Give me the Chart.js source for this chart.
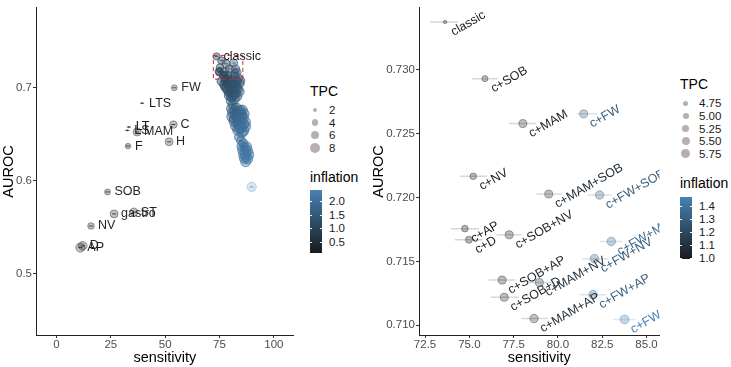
<!DOCTYPE html>
<html lang="en">
<head>
<meta charset="UTF-8">
<title>AUROC vs sensitivity</title>
<script src="https://cdn.jsdelivr.net/npm/chart.js"></script>
<style>
    body { margin: 0; background: #fff; font-family: "Liberation Sans", Arial, sans-serif; }
    #wrap { position: relative; width: 731px; height: 367px; overflow: hidden; }
    canvas { position: absolute; top: 0; }
    #leftChart { left: 0; }
    #rightChart { left: 370px; }
    .lg-title { position: absolute; font-size: 14px; line-height: 16px; color: #000; }
    .lg-label { position: absolute; font-size: 11.5px; line-height: 12px; color: #1a1a1a; }
    .dot { position: absolute; border-radius: 50%; background: #b8b0b0; }
    .bar { position: absolute; width: 12px; }
    .bar-tick { position: absolute; height: 1px; width: 2px; background: #fff; }
</style>
</head>
<body>
<div id="wrap">
    <canvas id="leftChart" width="300" height="367"></canvas>
    <canvas id="rightChart" width="295" height="367"></canvas>
</div>

<script>
// ---- right panel: classic + combinations ----
const comboNames = ['classic', 'c+SOB', 'c+MAM', 'c+FW', 'c+NV', 'c+MAM+SOB', 'c+FW+SOB', 'c+AP', 'c+D',
    'c+SOB+NV', 'c+FW+MAM', 'c+FW+NV', 'c+SOB+AP', 'c+MAM+NV', 'c+SOB+D', 'c+FW+AP', 'c+MAM+AP', 'c+FW+MAM+SOB'];
const comboSens = [73.63, 75.88, 78.02, 81.45, 75.22, 79.48, 82.35, 74.75, 74.98,
    77.25, 83.01, 82.06, 76.85, 78.95, 76.97, 81.98, 78.65, 83.76];
const comboAuroc = [0.73375, 0.72931, 0.72579, 0.72655, 0.72166, 0.72027, 0.72020, 0.71756, 0.71669,
    0.71708, 0.71656, 0.71521, 0.71353, 0.71334, 0.71218, 0.71239, 0.71052, 0.71045];
const comboSensLo = [72.78, 75.15, 77.23, 81.06, 74.47, 78.79, 81.68, 73.96, 74.19,
    76.54, 82.35, 81.38, 76.10, 78.25, 76.20, 81.23, 77.94, 83.10];
const comboSensHi = [74.36, 76.61, 78.75, 82.20, 75.99, 80.20, 83.03, 75.56, 75.75,
    77.94, 83.65, 82.82, 77.60, 79.65, 77.80, 82.73, 79.44, 84.40];
const comboTpc = [4.5, 4.95, 5.45, 5.45, 5.07, 5.45, 5.6, 5.07, 5.17,
    5.45, 5.6, 5.6, 5.45, 5.45, 5.45, 5.6, 5.6, 5.75];
const comboInfl = [1.0, 1.02, 1.05, 1.3, 1.0, 1.08, 1.3, 1.0, 1.0,
    1.02, 1.36, 1.3, 1.03, 1.12, 1.03, 1.32, 1.1, 1.46];

// ---- left panel: single features ----
const singleNames = ['FW', 'LTS', 'LT', 'LS', 'MAM', 'C', 'H', 'F', 'SOB', 'gastro', 'ST', 'NV', 'D', 'AP'];
const singleSens = [54.2, 39.4, 33.3, 32.6, 37.1, 53.8, 51.8, 32.9, 23.5, 26.5, 35.6, 15.9, 12.1, 11.0];
const singleAuroc = [0.700, 0.6834, 0.6578, 0.6542, 0.6525, 0.6605, 0.6419, 0.6373, 0.588, 0.5644, 0.5662, 0.5514, 0.5301, 0.5282];
const singleSensLo = [53.3, 38.5, 32.4, 31.7, 36.2, 52.9, 50.9, 32.0, 22.6, 25.6, 34.7, 15.0, 11.2, 10.1];
const singleSensHi = [55.1, 40.3, 34.2, 33.5, 38.0, 54.7, 52.7, 33.8, 24.4, 27.4, 36.5, 16.8, 13.0, 11.9];
const singleTpc = [3.4, 1, 1, 1, 5.4, 4.8, 5.4, 3, 3.4, 5.4, 5.9, 4, 6.1, 6.9];
const singleInfl = [0.5, 0.2, 0.15, 0.15, 0.3, 0.4, 0.4, 0.2, 0.3, 0.3, 0.3, 0.3, 0.2, 0.2];

// ---- left panel: remaining combinations (outside the zoom box) ----
const extraSens = [78.0, 80.5, 82.8, 77.2, 79.6, 82.0, 84.0, 78.5, 81.0, 83.2, 79.8, 82.3, 80.6, 83.0, 80.2,
    81.0, 80.5, 83.0, 85.5, 81.2, 83.8, 86.3, 80.8, 83.2, 85.8, 81.8, 84.3, 86.8, 82.5, 85.0,
    87.0, 83.5, 86.0, 84.0, 85.0, 85.3, 87.5, 85.8, 88.0, 86.2, 88.3, 86.5, 88.0, 87.0,
    76.0, 79.2, 81.5, 84.5, 77.8, 80.2, 82.6, 79.0, 81.6, 84.0, 81.5, 79.5, 81.8,
    82.0, 84.5, 82.5, 85.0, 82.0, 84.8, 83.5, 86.0, 84.2, 85.5,
    86.8, 87.0, 87.2, 86.0];
const extraAuroc = [0.7075, 0.7080, 0.7070, 0.7035, 0.7040, 0.7030, 0.7045, 0.6995, 0.6990, 0.6985, 0.6950, 0.6945, 0.6905, 0.6910, 0.6860,
    0.6820, 0.6775, 0.6780, 0.6760, 0.6735, 0.6730, 0.6720, 0.6690, 0.6685, 0.6680, 0.6640, 0.6635, 0.6630, 0.6590, 0.6585,
    0.6580, 0.6545, 0.6540, 0.6470, 0.6430, 0.6370, 0.6365, 0.6330, 0.6320, 0.6285, 0.6280, 0.6245, 0.6235, 0.6205,
    0.7070, 0.7060, 0.7055, 0.7075, 0.7010, 0.7015, 0.7005, 0.6970, 0.6965, 0.6960, 0.6925, 0.6920, 0.6880,
    0.6760, 0.6755, 0.6710, 0.6705, 0.6665, 0.6660, 0.6615, 0.6610, 0.6565, 0.6520,
    0.6350, 0.6300, 0.6260, 0.6400];
const extraTpc = [7, 7, 8, 7, 8, 8, 8, 8, 8, 8, 8, 8, 8, 8, 7,
    7, 8, 8, 8, 9, 9, 8, 9, 9, 9, 9, 9, 9, 9, 9,
    8, 9, 9, 7, 7, 8, 8, 9, 8, 9, 9, 9, 8, 8,
    7, 8, 8, 7, 8, 8, 8, 8, 8, 8, 8, 8, 8,
    8, 8, 9, 9, 9, 9, 9, 9, 9, 8,
    8, 9, 9, 7];
const extraInfl = [1.2, 1.3, 1.4, 1.1, 1.3, 1.4, 1.5, 1.2, 1.4, 1.5, 1.3, 1.5, 1.4, 1.6, 1.5,
    1.6, 1.6, 1.7, 1.8, 1.6, 1.8, 1.9, 1.7, 1.8, 1.9, 1.7, 1.9, 2.0, 1.8, 2.0,
    2.0, 1.9, 2.0, 1.9, 2.0, 2.0, 2.1, 2.1, 2.2, 2.1, 2.2, 2.2, 2.3, 2.2,
    1.1, 1.2, 1.3, 1.4, 1.2, 1.3, 1.4, 1.3, 1.4, 1.5, 1.4, 1.3, 1.5,
    1.7, 1.8, 1.7, 1.9, 1.8, 1.9, 1.9, 2.0, 2.0, 2.0,
    2.1, 2.2, 2.2, 2.0];
const EXTRA_ERR = 0.8;

// isolated combination far right
const loneSens = [89.8];
const loneAuroc = [0.5934];
const loneTpc = [7];
const loneInfl = [2.4];

// axes
const leftXTicks = [0, 25, 50, 75, 100];
const leftXLabels = ['0', '25', '50', '75', '100'];
const leftYTicks = [0.5, 0.6, 0.7];
const leftYLabels = ['0.5', '0.6', '0.7'];
const rightXTicks = [72.5, 75, 77.5, 80, 82.5, 85];
const rightXLabels = ['72.5', '75.0', '77.5', '80.0', '82.5', '85.0'];
const rightYTicks = [0.710, 0.715, 0.720, 0.725, 0.730];
const rightYLabels = ['0.710', '0.715', '0.720', '0.725', '0.730'];
const leftRange = { xMin: -9.4, xMax: 109.1, yMin: 0.4342, yMax: 0.7859 };
const rightRange = { xMin: 72.16, xMax: 85.73, yMin: 0.70923, yMax: 0.73485 };

// legends
const leftTpcLegend = [2, 4, 6, 8];
const leftInflLegend = [2.0, 1.5, 1.0, 0.5];
const rightTpcLegend = [4.75, 5.00, 5.25, 5.50, 5.75];
const rightInflLegend = [1.4, 1.3, 1.2, 1.1, 1.0];
const LEFT_INFL = [0.1, 2.4];
const RIGHT_INFL = [0.99, 1.47];

const LOW = [26, 26, 26];
const HIGH = [70, 130, 180];
const FONT = '"Liberation Sans", Arial, sans-serif';

function shade(v, range, a) {
    let t = (v - range[0]) / (range[1] - range[0]);
    t = Math.max(0, Math.min(1, t));
    const c = LOW.map((l, i) => Math.round(l + (HIGH[i] - l) * t));
    return `rgba(${c[0]},${c[1]},${c[2]},${a})`;
}

// point radius from TPC (area ~ linear)
const leftRadius = tpc => Math.sqrt(Math.max(0.3, 4 + 3.5 * (tpc - 2)));
const rightRadius = tpc => Math.sqrt(Math.max(1, 6.25 + 14 * (tpc - 4.75)));

function axis(range, ticks, labels, title, isY, size, pad) {
    return {
        type: 'linear',
        min: isY ? range.yMin : range.xMin,
        max: isY ? range.yMax : range.xMax,
        afterBuildTicks: a => { a.ticks = ticks.map(v => ({ value: v })); },
        afterFit: a => { if (isY) a.width = size; else a.height = size; },
        ticks: {
            callback: (v, i) => labels[i],
            color: '#4d4d4d',
            font: { family: FONT, size: 11.5 },
            padding: pad,
            maxRotation: 0,
            autoSkip: false
        },
        grid: { drawOnChartArea: false, drawTicks: true, tickLength: 3, color: '#333' },
        border: { display: true, color: '#222', width: 1 },
        title: { display: true, text: title, color: '#000', font: { family: FONT, size: 14.5 }, padding: 0 }
    };
}

function errorBarPlugin(sets, alpha, width, before) {
    const draw = chart => {
        const { ctx, scales: { x, y }, chartArea } = chart;
        ctx.save();
        ctx.beginPath();
        ctx.rect(chartArea.left, chartArea.top, chartArea.right - chartArea.left, chartArea.bottom - chartArea.top);
        ctx.clip();
        ctx.lineWidth = width;
        sets.forEach(s => {
            s.ys.forEach((yv, i) => {
                const lo = s.lo ? s.lo[i] : s.xs[i] - s.err;
                const hi = s.hi ? s.hi[i] : s.xs[i] + s.err;
                const py = y.getPixelForValue(yv);
                ctx.strokeStyle = shade(s.infl[i], s.range, alpha);
                ctx.beginPath();
                ctx.moveTo(x.getPixelForValue(lo), py);
                ctx.lineTo(x.getPixelForValue(hi), py);
                ctx.stroke();
            });
        });
        ctx.restore();
    };
    return before ? { id: 'eb', beforeDatasetsDraw: draw } : { id: 'eb', afterDatasetsDraw: draw };
}

function labelPlugin(sets, angle, dx, dy) {
    return {
        id: 'pointLabels',
        afterDatasetsDraw(chart) {
            const { ctx, scales: { x, y }, chartArea } = chart;
            ctx.save();
            ctx.beginPath();
            ctx.rect(chartArea.left, chartArea.top, chartArea.right - chartArea.left, chartArea.bottom - chartArea.top);
            ctx.clip();
            ctx.font = `12.5px ${FONT}`;
            ctx.textAlign = 'left';
            ctx.textBaseline = 'middle';
            sets.forEach(s => {
                s.names.forEach((n, i) => {
                    const px = x.getPixelForValue(s.xs[i]) + dx;
                    const py = y.getPixelForValue(s.ys[i]) + dy;
                    ctx.save();
                    ctx.translate(px, py);
                    ctx.rotate(-angle * Math.PI / 180);
                    ctx.fillStyle = shade(s.infl[i], s.range, 1);
                    ctx.fillText(n, 0, 0);
                    ctx.restore();
                });
            });
            ctx.restore();
        }
    };
}

// dashed box in left panel showing the zoomed area
const zoomBox = {
    id: 'zoomBox',
    afterDatasetsDraw(chart) {
        const { ctx, scales: { x, y } } = chart;
        const x0 = x.getPixelForValue(rightRange.xMin), x1 = x.getPixelForValue(rightRange.xMax);
        const y0 = y.getPixelForValue(rightRange.yMax), y1 = y.getPixelForValue(rightRange.yMin);
        ctx.save();
        ctx.strokeStyle = 'rgb(200,40,50)';
        ctx.lineWidth = 1;
        ctx.setLineDash([4, 3]);
        ctx.strokeRect(x0, y0, x1 - x0, y1 - y0);
        ctx.restore();
    }
};

function pts(xs, ys) { return xs.map((v, i) => ({ x: v, y: ys[i] })); }

function scatterSet(xs, ys, infl, tpc, range, radiusFn, alpha, edge) {
    return {
        data: pts(xs, ys),
        pointRadius: tpc.map(radiusFn),
        pointHoverRadius: tpc.map(radiusFn),
        pointBackgroundColor: infl.map(v => shade(v, range, alpha)),
        pointBorderColor: infl.map(v => shade(v, range, edge)),
        pointBorderWidth: 1
    };
}

// left chart
new Chart(document.getElementById('leftChart'), {
    type: 'scatter',
    data: {
        datasets: [
            scatterSet(singleSens, singleAuroc, singleInfl, singleTpc, LEFT_INFL, leftRadius, 0.28, 0.42),
            scatterSet(comboSens, comboAuroc, comboInfl, comboTpc, LEFT_INFL, leftRadius, 0.4, 0.6),
            scatterSet(extraSens, extraAuroc, extraInfl, extraTpc, LEFT_INFL, leftRadius, 0.45, 0.65),
            scatterSet(loneSens, loneAuroc, loneInfl, loneTpc, LEFT_INFL, leftRadius, 0.2, 0.3)
        ]
    },
    options: {
        responsive: false,
        animation: false,
        devicePixelRatio: 1,
        layout: { padding: { top: 2, right: 3.3, left: 0, bottom: 0 } },
        plugins: { legend: { display: false }, tooltip: { enabled: false } },
        scales: {
            x: axis(leftRange, leftXTicks, leftXLabels, 'sensitivity', false, 32, 0),
            y: axis(leftRange, leftYTicks, leftYLabels, 'AUROC', true, 36, 1)
        }
    },
    plugins: [
        errorBarPlugin([
            { xs: singleSens, ys: singleAuroc, lo: singleSensLo, hi: singleSensHi, infl: singleInfl, range: LEFT_INFL },
            { xs: comboSens, ys: comboAuroc, lo: comboSensLo, hi: comboSensHi, infl: comboInfl, range: LEFT_INFL },
            { xs: extraSens, ys: extraAuroc, err: EXTRA_ERR, infl: extraInfl, range: LEFT_INFL },
            { xs: loneSens, ys: loneAuroc, err: EXTRA_ERR, infl: loneInfl, range: LEFT_INFL }
        ], 0.8, 1, false),
        zoomBox,
        labelPlugin([
            { names: singleNames, xs: singleSens, ys: singleAuroc, infl: singleInfl, range: LEFT_INFL },
            { names: comboNames.slice(0, 1), xs: comboSens, ys: comboAuroc, infl: [0], range: LEFT_INFL }
        ], 0, 7, 0)
    ]
});

// right chart
new Chart(document.getElementById('rightChart'), {
    type: 'scatter',
    data: {
        datasets: [
            scatterSet(comboSens, comboAuroc, comboInfl, comboTpc, RIGHT_INFL, rightRadius, 0.3, 0.4)
        ]
    },
    options: {
        responsive: false,
        animation: false,
        devicePixelRatio: 1,
        layout: { padding: { top: 2, right: 5, left: 0, bottom: 0 } },
        plugins: { legend: { display: false }, tooltip: { enabled: false } },
        scales: {
            x: axis(rightRange, rightXTicks, rightXLabels, 'sensitivity', false, 32, 0),
            y: axis(rightRange, rightYTicks, rightYLabels, 'AUROC', true, 49, 1)
        }
    },
    plugins: [
        errorBarPlugin([
            { xs: comboSens, ys: comboAuroc, lo: comboSensLo, hi: comboSensHi, infl: comboInfl, range: RIGHT_INFL }
        ], 0.18, 1.5, true),
        labelPlugin([
            { names: comboNames, xs: comboSens, ys: comboAuroc, infl: comboInfl, range: RIGHT_INFL }
        ], 30, 7, 11)
    ]
});

// legends (HTML)
function buildLegend(o) {
    const wrap = document.getElementById('wrap');
    const add = (cls, css, text) => {
        const d = document.createElement('div');
        d.className = cls;
        Object.assign(d.style, css);
        if (text !== undefined) d.textContent = text;
        wrap.appendChild(d);
        return d;
    };
    add('lg-title', { left: o.x + 'px', top: (o.tpcTitleY - 8) + 'px' }, 'TPC');
    o.tpc.forEach((v, i) => {
        const cy = o.tpcY0 + i * 12.6;
        const r = o.radius(v);
        add('dot', { left: (o.dotX - r) + 'px', top: (cy - r) + 'px', width: 2 * r + 'px', height: 2 * r + 'px' });
        add('lg-label', { left: o.labelX + 'px', top: (cy - 6) + 'px' }, o.tpcText(v));
    });
    add('lg-title', { left: o.x + 'px', top: (o.inflTitleY - 8) + 'px' }, 'inflation');
    const lowC = `rgb(${LOW.join(',')})`, highC = `rgb(${HIGH.join(',')})`;
    add('bar', { left: o.x + 'px', top: o.barTop + 'px', height: o.barH + 'px',
        background: `linear-gradient(to top, ${lowC}, ${highC})` });
    o.infl.forEach(v => {
        const cy = o.barTop + (o.range[1] - v) / (o.range[1] - o.range[0]) * o.barH;
        add('bar-tick', { left: o.x + 'px', top: cy + 'px' });
        add('bar-tick', { left: (o.x + 10) + 'px', top: cy + 'px' });
        add('lg-label', { left: o.labelX + 'px', top: (cy - 6) + 'px' }, o.inflText(v));
    });
}

buildLegend({
    x: 310, tpcTitleY: 91, tpc: leftTpcLegend, tpcY0: 110, dotX: 315, labelX: 329,
    radius: leftRadius, tpcText: v => String(v),
    inflTitleY: 177, barTop: 190, barH: 63, range: LEFT_INFL, infl: leftInflLegend,
    inflText: v => v.toFixed(1)
});
buildLegend({
    x: 680, tpcTitleY: 84, tpc: rightTpcLegend, tpcY0: 103.3, dotX: 685.7, labelX: 699,
    radius: rightRadius, tpcText: v => v.toFixed(2),
    inflTitleY: 183, barTop: 196.7, barH: 62.6, range: RIGHT_INFL, infl: rightInflLegend,
    inflText: v => v.toFixed(1)
});
</script>
</body>
</html>
